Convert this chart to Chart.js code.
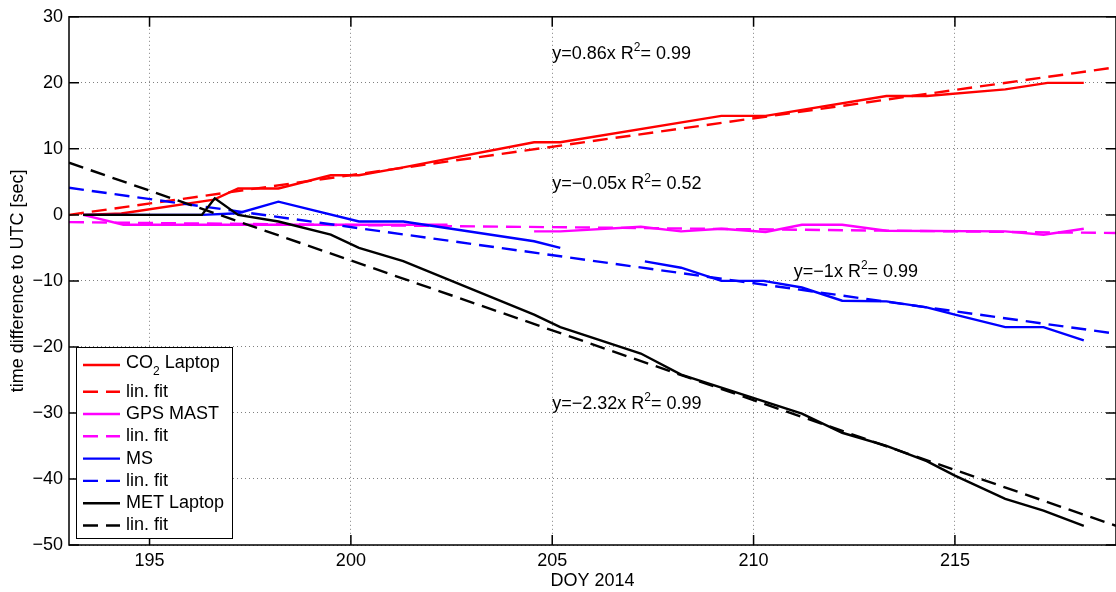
<!DOCTYPE html>
<html>
<head>
<meta charset="utf-8">
<script src="https://cdn.jsdelivr.net/npm/chart.js@4.4.1/dist/chart.umd.min.js"></script>
<style>
html, body { margin: 0; padding: 0; background: #fff; }
canvas { display: block; }
</style>
</head>
<body>
<canvas id="drift_chart" width="1116" height="592"></canvas>
<script>
var FONT = '"Liberation Sans", Arial, Helvetica, sans-serif';

// measured time differences (sec) vs day of year; null = no data
var co2Day = [193.35, 194.3, 196.6, 197.2, 198.2, 199.5, 200.2, 201.3, 204.55, 205.2, 209.2, 210.3, 213.3, 214.3, 216.25, 217.3, 218.2];
var co2Sec = [0, 0.2, 2.3, 4, 4, 6, 6, 7.2, 11, 11, 15, 15, 18, 18, 19, 20, 20];

var gpsDay = [193.35, 194.35, 202.4, 203.5, 204.55, 205.2, 207.2, 208.2, 209.2, 210.3, 211.2, 212.2, 213.3, 216.25, 217.2, 218.2];
var gpsSec = [0, -1.5, -1.5, null, -2.5, -2.5, -1.8, -2.5, -2.1, -2.6, -1.5, -1.5, -2.4, -2.5, -3.0, -2.1];

var msDay = [193.35, 196.3, 197.2, 198.2, 200.2, 201.3, 204.55, 205.2, 206.3, 207.3, 208.2, 209.2, 210.25, 211.2, 212.2, 213.3, 214.3, 215.0, 216.25, 217.2, 218.2];
var msSec = [0, 0, 0.25, 2, -1, -1, -4, -5, null, -7.05, -8, -10, -10, -11, -13, -13.1, -14, -15.1, -17, -17, -19];

var metDay = [193.35, 196.3, 196.62, 197.2, 198.2, 199.5, 200.2, 201.3, 204.55, 205.2, 207.2, 208.2, 211.2, 212.2, 213.3, 214.3, 215.0, 216.25, 217.2, 218.2];
var metSec = [0, 0, 2.5, 0, -1, -3, -5, -7, -15.1, -17, -21, -24.2, -30.1, -33, -35, -37.3, -39.5, -43, -44.8, -47.1];

// linear fits, evaluated at the axis ends
var fitDay = [193, 219];
var co2Fit = [0, 22.36];
var gpsFit = [-1.1, -2.75];
var msFit = [4.1, -18.0];
var metFit = [7.9, -47.1];

var xTicks = [195, 200, 205, 210, 215];

// fit equations written in the plot
var fitText = ['y=0.86x R²= 0.99', 'y=−0.05x R²= 0.52', 'y=−1x R²= 0.99', 'y=−2.32x R²= 0.99'];
var fitTextDay = [205, 205, 211, 205];
var fitTextSec = [24.4, 4.6, -8.6, -28.6];

function pts(days, secs) {
    return days.map(function (d, i) { return { x: d, y: secs[i] }; });
}

function series(label, days, secs, color, dashed, order) {
    return {
        label: label,
        data: pts(days, secs),
        borderColor: color,
        backgroundColor: color,
        borderWidth: 2.4,
        borderDash: dashed ? [15, 8] : [],
        pointRadius: 0,
        tension: 0,
        spanGaps: false,
        fill: false,
        order: order
    };
}

// draws text where ² is a superscript and ₂ a subscript
function drawRich(ctx, str, x, y, size) {
    var cx = x, run = '';
    function flush() {
        if (!run) return;
        ctx.font = size + 'px ' + FONT;
        ctx.fillText(run, cx, y);
        cx += ctx.measureText(run).width;
        run = '';
    }
    for (var i = 0; i < str.length; i++) {
        var c = str[i];
        if (c === '²' || c === '₂') {
            flush();
            ctx.font = '12px ' + FONT;
            ctx.fillText('2', cx, c === '²' ? y - 6 : y + 9);
            cx += ctx.measureText('2').width;
        } else {
            run += c;
        }
    }
    flush();
}

var framePlugin = {
    id: 'framePlugin',
    afterDatasetsDraw: function (chart) {
        var ctx = chart.ctx, a = chart.chartArea;
        var xs = chart.scales.x, ys = chart.scales.y;
        ctx.save();

        ctx.fillStyle = '#000';
        ctx.textAlign = 'left';
        ctx.textBaseline = 'middle';
        fitText.forEach(function (t, i) {
            drawRich(ctx, t, xs.getPixelForValue(fitTextDay[i]), ys.getPixelForValue(fitTextSec[i]), 18);
        });

        // axes box and inward ticks
        ctx.strokeStyle = '#000';
        ctx.lineWidth = 1.5;
        ctx.setLineDash([]);
        ctx.strokeRect(a.left, a.top, a.right - a.left, a.bottom - a.top);
        ctx.beginPath();
        xs.ticks.forEach(function (t) {
            var px = xs.getPixelForValue(t.value);
            ctx.moveTo(px, a.bottom); ctx.lineTo(px, a.bottom - 10);
            ctx.moveTo(px, a.top); ctx.lineTo(px, a.top + 10);
        });
        ys.ticks.forEach(function (t) {
            var py = ys.getPixelForValue(t.value);
            ctx.moveTo(a.left, py); ctx.lineTo(a.left + 10, py);
            ctx.moveTo(a.right, py); ctx.lineTo(a.right - 10, py);
        });
        ctx.stroke();

        // legend
        var lx = 76, ly = 347, lw = 156, lh = 191;
        ctx.fillStyle = '#fff';
        ctx.fillRect(lx, ly, lw, lh);
        ctx.lineWidth = 1;
        ctx.strokeStyle = '#000';
        ctx.strokeRect(lx + 0.5, ly + 0.5, lw, lh);
        chart.data.datasets.forEach(function (ds, i) {
            var rowY = i === 0 ? 365 : 391.7 + (i - 1) * 22.3;
            ctx.beginPath();
            ctx.strokeStyle = ds.borderColor;
            ctx.lineWidth = 2.4;
            ctx.setLineDash(ds.borderDash);
            ctx.moveTo(83, rowY);
            ctx.lineTo(120, rowY);
            ctx.stroke();
            ctx.setLineDash([]);
            ctx.fillStyle = '#000';
            drawRich(ctx, ds.label, 126, i === 0 ? rowY - 2 : rowY, 18);
        });

        ctx.restore();
    }
};

new Chart(document.getElementById('drift_chart').getContext('2d'), {
    type: 'line',
    data: {
        datasets: [
            series('CO₂ Laptop', co2Day, co2Sec, '#ff0000', false, 7),
            series('lin. fit', fitDay, co2Fit, '#ff0000', true, 6),
            series('GPS MAST', gpsDay, gpsSec, '#ff00ff', false, 5),
            series('lin. fit', fitDay, gpsFit, '#ff00ff', true, 4),
            series('MS', msDay, msSec, '#0000ff', false, 3),
            series('lin. fit', fitDay, msFit, '#0000ff', true, 2),
            series('MET Laptop', metDay, metSec, '#000000', false, 1),
            series('lin. fit', fitDay, metFit, '#000000', true, 0)
        ]
    },
    options: {
        responsive: false,
        animation: false,
        devicePixelRatio: 1,
        layout: { padding: { top: 15, right: 0, bottom: 0, left: 0 } },
        plugins: {
            legend: { display: false },
            tooltip: { enabled: false }
        },
        scales: {
            x: {
                type: 'linear',
                min: 193,
                max: 219,
                afterFit: function (s) { s.height = 47; },
                afterBuildTicks: function (s) {
                    s.ticks = xTicks.map(function (v) { return { value: v }; });
                },
                ticks: {
                    padding: 5,
                    color: '#000',
                    font: { family: FONT, size: 18 },
                    maxRotation: 0,
                    callback: function (v) { return String(v); }
                },
                grid: { color: '#808080', lineWidth: 1, drawTicks: false },
                border: { display: false, dash: [1, 3] },
                title: {
                    display: true,
                    text: 'DOY 2014',
                    color: '#000',
                    font: { family: FONT, size: 18 },
                    padding: { top: 2, bottom: 0 }
                }
            },
            y: {
                min: -50,
                max: 30,
                afterFit: function (s) { s.width = 69; },
                ticks: {
                    stepSize: 10,
                    padding: 6,
                    color: '#000',
                    font: { family: FONT, size: 18 },
                    callback: function (v) { return String(v).replace('-', '−'); }
                },
                grid: { color: '#808080', lineWidth: 1, drawTicks: false },
                border: { display: false, dash: [1, 3] },
                title: {
                    display: true,
                    text: 'time difference to UTC [sec]',
                    color: '#000',
                    font: { family: FONT, size: 18 },
                    padding: { top: 7, bottom: 0 }
                }
            }
        }
    },
    plugins: [framePlugin]
});
</script>
</body>
</html>
